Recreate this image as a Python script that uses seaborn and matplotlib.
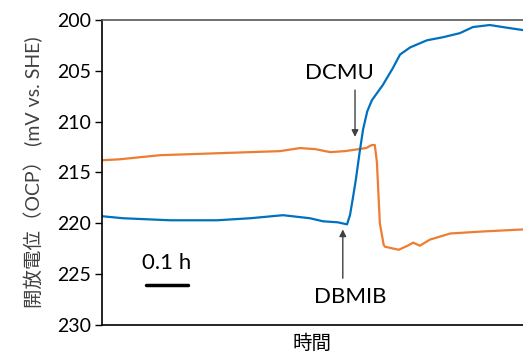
import pandas as pd
import matplotlib.pyplot as plt
import seaborn as sns

# 時間 (h) と開放電位 (mV vs. SHE)
blue_t = [0.000, 0.050, 0.162, 0.273, 0.352, 0.430, 0.494, 0.525, 0.560, 0.582,
          0.589, 0.596, 0.603, 0.612, 0.620, 0.630, 0.641, 0.667, 0.690, 0.708,
          0.732, 0.772, 0.810, 0.850, 0.881, 0.921, 0.952, 1.000]
blue_v = [219.3, 219.5, 219.7, 219.7, 219.5, 219.2, 219.5, 219.8, 219.9, 220.1,
          219.2, 217.5, 215.7, 213.0, 210.8, 209.0, 207.9, 206.4, 204.8, 203.4,
          202.7, 202.0, 201.7, 201.3, 200.7, 200.5, 200.7, 201.0]

orange_t = [0.000, 0.043, 0.090, 0.138, 0.209, 0.280, 0.352, 0.423, 0.470, 0.506,
            0.542, 0.577, 0.627, 0.641, 0.648, 0.653, 0.660, 0.669, 0.672, 0.705,
            0.726, 0.739, 0.755, 0.779, 0.827, 0.905, 1.000]
orange_v = [213.8, 213.7, 213.5, 213.3, 213.2, 213.1, 213.0, 212.9, 212.6, 212.7,
            213.0, 212.9, 212.6, 212.3, 212.3, 214.0, 220.0, 222.1, 222.3, 222.6,
            222.2, 221.9, 222.2, 221.6, 221.0, 220.8, 220.6]

y_ticks = [200, 205, 210, 215, 220, 225, 230]

blue_df = pd.DataFrame({'t': blue_t, 'ocp': blue_v})
orange_df = pd.DataFrame({'t': orange_t, 'ocp': orange_v})

sns.set_theme(style='white')
plt.rcParams['font.family'] = ['Lato', 'Noto Sans CJK JP', 'DejaVu Sans']
plt.rcParams['text.color'] = 'black'

fig = plt.figure(figsize=(5.23, 3.56), dpi=100)
ax = fig.add_axes([0.195, 0.087, 0.805, 0.857])

sns.lineplot(data=orange_df, x='t', y='ocp', color='#ED7D31', lw=1.6, ax=ax)
sns.lineplot(data=blue_df, x='t', y='ocp', color='#0070C0', lw=1.6, ax=ax)

ax.set_xlim(0, 1.0)
ax.set_ylim(230, 200)
ax.set_yticks(y_ticks)
ax.set_xticks([])
ax.tick_params(axis='y', direction='out', length=5, width=1, labelsize=14,
               left=True, color='black', labelcolor='black', pad=3)

for side in ['left', 'bottom']:
    ax.spines[side].set_color('black')
    ax.spines[side].set_linewidth(1.2)
ax.spines['top'].set_color('#595959')
ax.spines['top'].set_linewidth(1.2)
ax.spines['right'].set_visible(False)

ax.set_xlabel('時間', fontsize=14, labelpad=6, color='black')
ax.set_ylabel('開放電位（OCP） (mV vs. SHE)', fontsize=14, labelpad=10,
              color='#404040')

# 矢印
ax.annotate('DCMU', xy=(0.601, 211.5), xytext=(0.565, 205.2),
            ha='center', va='center', fontsize=16)
ax.annotate('', xy=(0.601, 211.5), xytext=(0.601, 206.9),
            arrowprops=dict(arrowstyle='-|>', color='#404040', lw=1,
                            mutation_scale=10, shrinkA=0, shrinkB=0))
ax.annotate('DBMIB', xy=(0.572, 220.6), xytext=(0.589, 227.2),
            ha='center', va='center', fontsize=16)
ax.annotate('', xy=(0.572, 220.6), xytext=(0.572, 225.4),
            arrowprops=dict(arrowstyle='-|>', color='#404040', lw=1,
                            mutation_scale=10, shrinkA=0, shrinkB=0))

# スケールバー
ax.plot([0.1045, 0.2045], [226.1, 226.1], color='black', lw=2.5)
ax.text(0.154, 223.9, '0.1 h', ha='center', va='center', fontsize=16)

fig.savefig('out.png', dpi=100)
